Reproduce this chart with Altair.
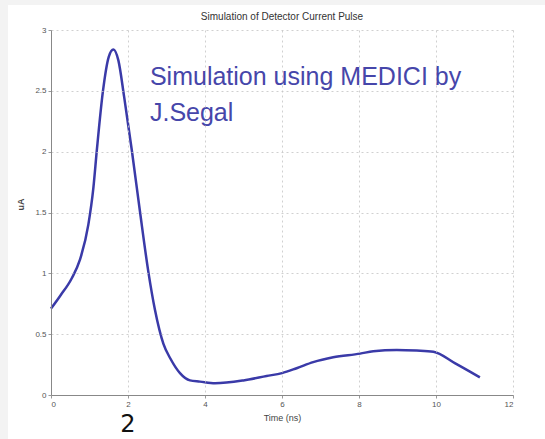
import altair as alt
import pandas as pd

# Data
time_ns = [0.0, 0.25, 0.54, 0.75, 0.97, 1.1, 1.19, 1.35, 1.5, 1.62, 1.75, 1.9, 2.1, 2.31, 2.53, 2.70, 2.92, 3.1, 3.35, 3.61, 3.87, 4.26, 5.0, 5.6, 6.0, 6.38, 6.81, 7.33, 8.03, 8.37, 8.98, 9.5, 9.93, 10.5, 11.14]
current_ua = [0.71, 0.82, 0.96, 1.11, 1.40, 1.70, 2.01, 2.50, 2.78, 2.84, 2.75, 2.45, 2.01, 1.51, 1.01, 0.70, 0.42, 0.30, 0.18, 0.12, 0.11, 0.096, 0.12, 0.156, 0.18, 0.22, 0.27, 0.31, 0.34, 0.36, 0.37, 0.365, 0.356, 0.26, 0.145]

x_ticks = [0, 2, 4, 6, 8, 10, 12]
y_ticks = [0, 0.5, 1, 1.5, 2, 2.5, 3]

title_text = "Simulation of Detector Current Pulse"
note_lines = ["Simulation using MEDICI by", "J.Segal"]
note_x = [2.57, 2.57]
note_y = [2.61, 2.32]

df = pd.DataFrame({"t": time_ns, "v": current_ua})
notes = pd.DataFrame({"label": note_lines, "t": note_x, "v": note_y})

W, H = 462, 365
PL, PT, PR, PB = 51, 30, 32, 44

xs = alt.Scale(domain=[0, 12], nice=False)
ys = alt.Scale(domain=[0, 3], nice=False)

panel = alt.Chart(pd.DataFrame({"a": [0]})).mark_rect(color="white").encode(
    x=alt.value(-PL + 8), x2=alt.value(W + PR), y=alt.value(-PT + 5), y2=alt.value(H + PB)
)

axis_common = dict(
    grid=True, gridColor="#c4c4c4", gridDash=[2, 3], gridWidth=0.8,
    domainColor="#888888", ticks=True, tickSize=3, tickColor="#999999", labelColor="#555555",
    labelFont="Liberation Sans", labelFontSize=8,
    titleFont="Liberation Sans", titleColor="#444444",
    format="~g", zindex=1,
)

line = alt.Chart(df).mark_line(color="#3a3aa8", strokeWidth=2.5, interpolate="monotone").encode(
    x=alt.X("t:Q", scale=xs, axis=alt.Axis(values=x_ticks, title="Time (ns)", titlePadding=5, labelPadding=2,
                                           titleFontSize=9, titleFontWeight="normal", **axis_common)),
    y=alt.Y("v:Q", scale=ys, axis=alt.Axis(values=y_ticks, title="uA", titlePadding=9, labelPadding=2,
                                           titleFontSize=9, titleFontWeight="bold", titleY=174, **axis_common)),
)

text = alt.Chart(notes).mark_text(
    align="left", baseline="middle", fontSize=25, font="Liberation Sans", color="#4646aa"
).encode(x=alt.X("t:Q", scale=xs), y=alt.Y("v:Q", scale=ys), text="label:N")

title = alt.Chart(pd.DataFrame({"s": [title_text]})).mark_text(
    align="center", baseline="middle", fontSize=10, font="Liberation Sans", color="#333333"
).encode(x=alt.value(W / 2), y=alt.value(17 - PT), text="s:N")

stray = alt.Chart(pd.DataFrame({"s": ["2"]})).mark_text(
    align="center", baseline="middle", fontSize=24, font="DejaVu Sans", color="#111111"
).encode(x=alt.value(128 - PL), y=alt.value(425 - PT), text="s:N")

chart = alt.layer(panel, line, text, title, stray).properties(
    width=W, height=H,
    autosize=alt.AutoSizeParams(type="none"),
    padding={"left": PL, "top": PT, "right": PR, "bottom": PB},
).configure(background="#f3f3f3").configure_view(stroke="#888888", strokeWidth=1)

chart.save("out.html", embed_options={"renderer": "svg", "actions": False})
